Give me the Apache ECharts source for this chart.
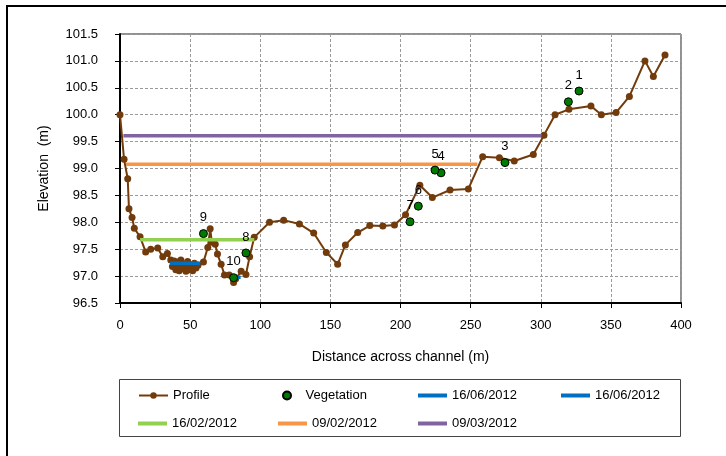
<!DOCTYPE html>
<html>
<head>
<meta charset="utf-8">
<script src="https://cdn.jsdelivr.net/npm/echarts@6/dist/echarts.min.js"></script>
<style>
  html, body { margin: 0; padding: 0; background: #fff; }
  #chart { width: 726px; height: 456px; }
</style>
</head>
<body>
<div id="chart"></div>
<script>
// Cross-section profile of the channel bed (distance in m, elevation in m)
const profileDist = [0, 2.9, 5.5, 6.4, 8.6, 10.2, 14.3, 18.3, 21.9, 26.9, 30.5, 33.8,
  36.2, 37.4, 38.6, 39.8, 41.0, 42.2, 43.4, 44.6, 45.8, 47.0, 48.2, 49.4, 50.6, 51.8,
  53.0, 54.2, 55.6, 59.5, 62.6, 64.3, 65.5, 67.9, 69.5, 72.1, 74.5, 77.9, 81.0, 82.5,
  86.4, 89.8, 92.4, 95.7, 106.6, 116.7, 127.9, 138.1, 147.1, 155.2, 160.7, 169.5,
  178.1, 187.4, 195.7, 203.6, 213.8, 222.7, 235.3, 248.4, 258.6, 270.5, 281.1, 294.7,
  302.3, 310.2, 320.1, 335.8, 343.2, 353.7, 363.2, 374.3, 380.3, 388.6];
const profileElev = [100.0, 99.17, 98.81, 98.25, 98.09, 97.89, 97.73, 97.45, 97.5, 97.52, 97.36, 97.42,
  97.3, 97.18, 97.28, 97.12, 97.26, 97.1, 97.3, 97.14, 97.22, 97.09, 97.27, 97.12, 97.2, 97.1,
  97.24, 97.15, 97.2, 97.26, 97.53, 97.88, 97.63, 97.59, 97.41, 97.22, 97.02, 97.02, 96.88, 96.95,
  97.09, 97.03, 97.36, 97.72, 98.0, 98.04, 97.97, 97.8, 97.44, 97.22, 97.58, 97.81,
  97.94, 97.93, 97.95, 98.14, 98.69, 98.46, 98.6, 98.62, 99.22, 99.2, 99.14, 99.26,
  99.62, 100.0, 100.1, 100.16, 100.0, 100.04, 100.34, 101.0, 100.71, 101.11];

// Vegetation sample points, numbered 1-10
const vegLabels = ['1', '2', '3', '4', '5', '6', '7', '8', '9', '10'];
const vegDist = [327.3, 319.7, 274.5, 228.9, 224.6, 212.7, 206.8, 89.8, 59.5, 81.0];
const vegElev = [100.44, 100.24, 99.11, 98.92, 98.97, 98.30, 98.01, 97.43, 97.79, 96.97];

// Water levels by survey date: [start distance, end distance] and level
const level1606aDist = [35.7, 57.2];  const level1606aElev = 97.24;
const level1606bDist = [82.5, 86.0];  const level1606bElev = 96.98;
const level1602Dist = [14.3, 95.7];   const level1602Elev = 97.675;
const level0902Dist = [4.3, 254.8];   const level0902Elev = 99.08;
const level0903Dist = [2.4, 300.6];   const level0903Elev = 99.61;

// Axis ticks
const xTicks = { min: 0, max: 400, step: 50 };
const yTicks = { min: 96.5, max: 101.5, step: 0.5 };

const FONT = 'Liberation Sans, Arial, sans-serif';
const BROWN = '#723b0b';

const zip = (xs, ys) => xs.map((x, i) => [x, ys[i]]);
const flat = (xs, y) => xs.map(x => [x, y]);

function levelSeries(name, xs, y, color) {
  return {
    name: name, type: 'line', data: flat(xs, y),
    symbol: 'none', showSymbol: false, silent: true,
    lineStyle: { color: color, width: 3.5 },
    itemStyle: { color: color },
    z: 3
  };
}

// one legend entry per component so the columns can sit where they belong
function legendAt(name, left, top, extra) {
  return Object.assign({
    data: [name], left: left, top: top, padding: 0,
    itemWidth: 29, itemHeight: 4, icon: 'rect', selectedMode: false,
    textStyle: { fontFamily: FONT, fontSize: 13, color: '#000' }
  }, extra || {});
}

const chart = echarts.init(document.getElementById('chart'), null, { renderer: 'canvas' });

chart.setOption({
  animation: false,
  backgroundColor: '#fff',
  grid: { left: 120, right: 45, top: 34, bottom: 153, show: true, borderColor: '#222', borderWidth: 1 },
  xAxis: {
    type: 'value', min: xTicks.min, max: xTicks.max, interval: xTicks.step,
    name: 'Distance across channel (m)', nameLocation: 'middle', nameGap: 47,
    nameTextStyle: { fontFamily: FONT, fontSize: 14, color: '#000' },
    axisLine: { lineStyle: { color: '#000', width: 2 } },
    axisTick: { show: true, length: 5, lineStyle: { color: '#000', width: 1 } },
    axisLabel: { fontFamily: FONT, fontSize: 13, color: '#000', margin: 16 },
    splitLine: { show: true, lineStyle: { color: '#9a9a9a', width: 1, type: [3, 2] } }
  },
  yAxis: {
    type: 'value', min: yTicks.min, max: yTicks.max, interval: yTicks.step,
    name: 'Elevation  (m)', nameLocation: 'middle', nameGap: 69, nameRotate: 90,
    nameTextStyle: { fontFamily: FONT, fontSize: 14, color: '#000' },
    axisLine: { show: true, lineStyle: { color: '#000', width: 2 } },
    axisTick: { show: true, length: 5, lineStyle: { color: '#000', width: 1 } },
    axisLabel: { fontFamily: FONT, fontSize: 13, color: '#000', margin: 22,
      formatter: v => v.toFixed(1) },
    splitLine: { show: true, lineStyle: { color: '#9a9a9a', width: 1, type: [3, 2] } }
  },
  legend: [
    legendAt('Profile', 138, 389, { itemHeight: 8, icon: null }),
    legendAt('Vegetation', 282, 389, { itemWidth: 27, itemHeight: 8, icon: 'circle' }),
    legendAt('16/06/2012', 418, 389),
    legendAt('16/06/2012', 561, 389),
    legendAt('16/02/2012', 138, 417),
    legendAt('09/02/2012', 278, 417),
    legendAt('09/03/2012', 418, 417)
  ],
  graphic: [
    { type: 'rect', shape: { x: 7, y: 6, width: 740, height: 470 },
      style: { fill: null, stroke: '#000', lineWidth: 2 }, silent: true, z: -1 },
    { type: 'rect', shape: { x: 119.5, y: 379.5, width: 561, height: 57 },
      style: { fill: null, stroke: '#444', lineWidth: 1 }, silent: true }
  ],
  series: [
    {
      name: 'Profile', type: 'line', data: zip(profileDist, profileElev),
      symbol: 'circle', symbolSize: 7, showAllSymbol: true,
      lineStyle: { color: BROWN, width: 2 },
      itemStyle: { color: BROWN },
      z: 2
    },
    levelSeries('16/06/2012', level1606aDist, level1606aElev, '#0070c0'),
    levelSeries('16/06/2012', level1606bDist, level1606bElev, '#0070c0'),
    levelSeries('16/02/2012', level1602Dist, level1602Elev, '#92d050'),
    levelSeries('09/02/2012', level0902Dist, level0902Elev, '#f79646'),
    levelSeries('09/03/2012', level0903Dist, level0903Elev, '#8064a2'),
    {
      name: 'Vegetation', type: 'scatter',
      data: vegDist.map((x, i) => ({ value: [x, vegElev[i]], label: { formatter: vegLabels[i] } })),
      symbol: 'circle', symbolSize: 8,
      itemStyle: { color: '#007a00', borderColor: '#000', borderWidth: 1, opacity: 1 },
      label: { show: true, position: 'top', distance: 5,
        fontFamily: FONT, fontSize: 13, color: '#000' },
      z: 4
    }
  ]
});
</script>
</body>
</html>
